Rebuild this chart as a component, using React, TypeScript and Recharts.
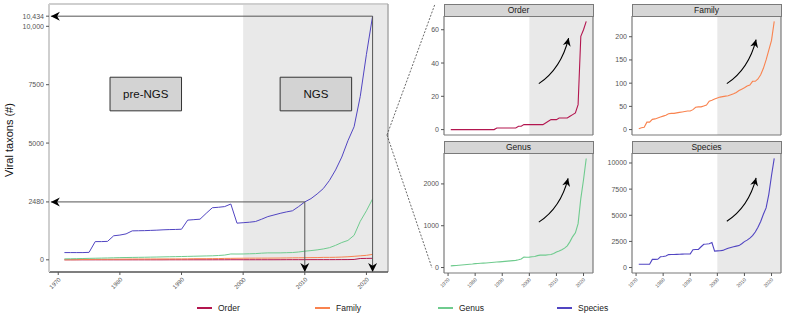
import React from 'react';
import { LineChart, Line, XAxis, YAxis, ReferenceArea, ReferenceLine } from 'recharts';

// year of record and cumulative number of viral taxa per rank
const years = [
  1971, 1972, 1973, 1974, 1975, 1976, 1977, 1978, 1979, 1980,
  1981, 1982, 1983, 1984, 1985, 1986, 1987, 1988, 1989, 1990,
  1991, 1992, 1993, 1994, 1995, 1996, 1997, 1998, 1999, 2000,
  2001, 2002, 2003, 2004, 2005, 2006, 2007, 2008, 2009, 2010,
  2011, 2012, 2013, 2014, 2015, 2016, 2017, 2018, 2019, 2020,
  2021,
];
const orderCount = [
  0, 0, 0, 0, 0, 0, 0, 0, 0, 0,
  0, 0, 0, 0, 0, 0, 0, 1, 1, 1,
  1, 1, 1, 1, 1, 2, 2, 3, 3, 3,
  3, 3, 3, 3, 3, 4, 5, 6, 6, 6,
  7, 7, 7, 7, 8, 9, 10, 15, 56, 60,
  65,
];
const familyCount = [
  2, 4, 5, 16, 16, 22, 23, 25, 27, 29,
  31, 34, 35, 35, 36, 37, 38, 39, 40, 40,
  43, 48, 49, 49, 51, 53, 61, 63, 66, 68,
  70, 71, 72, 73, 75, 77, 80, 84, 87, 90,
  94, 96, 104, 104, 109, 118, 132, 150, 171, 192,
  233,
];
const genusCount = [
  40, 45, 50, 56, 62, 68, 74, 80, 86, 94,
  98, 102, 106, 110, 115, 120, 126, 131, 136, 141,
  147, 153, 160, 166, 172, 185, 203, 250, 248, 250,
  258, 266, 285, 297, 297, 298, 305, 312, 335, 370,
  395, 425, 465, 520, 620, 740, 830, 1050, 1650, 2100,
  2609,
];
const speciesCount = [
  310, 310, 310, 310, 320, 780, 780, 790, 1030, 1060,
  1110, 1240, 1245, 1250, 1260, 1270, 1285, 1295, 1300, 1310,
  1700, 1720, 1740, 1990, 2230, 2250, 2280, 2390, 1570, 1590,
  1610, 1640, 1740, 1850, 1920, 1990, 2050, 2100, 2280, 2480,
  2620, 2820, 3050, 3400, 3850, 4400, 5100, 5700, 7000, 8800,
  10434,
];

const yearTicks = [1970, 1980, 1990, 2000, 2010, 2020];
const mainTicks = [0, 2480, 5000, 7500, 10000, 10434];
const ngsStart = 2000;
const milestoneYear = 2010;
const milestoneValue = 2480;
const lastYear = 2021;
const lastValue = 10434;

const ranks = [
  { key: 'order', name: 'Order', color: '#B3164F', ticks: [0, 20, 40, 60] },
  { key: 'family', name: 'Family', color: '#F9834F', ticks: [0, 50, 100, 150, 200] },
  { key: 'genus', name: 'Genus', color: '#6FCB8E', ticks: [0, 1000, 2000] },
  { key: 'species', name: 'Species', color: '#5145C2', ticks: [0, 2500, 5000, 7500, 10000] },
];
// growth arrows: [startYear, startValue, endYear, endValue]
const growthArrows: Record<string, number[]> = {
  order: [2003.5, 27.6, 2014.5, 55],
  family: [2003.5, 99, 2014.3, 194],
  genus: [2003.5, 1086, 2014.3, 2133],
  species: [2003.5, 4427, 2014.3, 8576],
};

const data = years.map((year, i) => ({
  year,
  order: orderCount[i],
  family: familyCount[i],
  genus: genusCount[i],
  species: speciesCount[i],
}));

const FONT = '"Liberation Sans", Arial, sans-serif';
const xDomain: [number, number] = [years[0] - 2.5, years[years.length - 1] + 2.5];

const padded = (max: number): [number, number] => [-max * 0.05, max * 1.05];

const headPoints = (x: number, y: number, dx: number, dy: number, len: number, half: number) => {
  const l = Math.hypot(dx, dy) || 1;
  const ux = dx / l;
  const uy = dy / l;
  const bx = x - ux * len;
  const by = y - uy * len;
  const nx = x - ux * len * 0.7;
  const ny = y - uy * len * 0.7;
  return `${x},${y} ${bx - uy * half},${by + ux * half} ${nx},${ny} ${bx + uy * half},${by - ux * half}`;
};

const StraightArrow = (props: any) => {
  const { x1, y1, x2, y2 } = props;
  return (
    <g>
      <line x1={x1} y1={y1} x2={x2} y2={y2} stroke="#555" strokeWidth={1} />
      <polygon points={headPoints(x2, y2, x2 - x1, y2 - y1, 9, 4.5)} fill="#000" />
    </g>
  );
};

const CurvedArrow = (props: any) => {
  const { x1, y1, x2, y2 } = props;
  const cx = x1 + (x2 - x1) * 0.75;
  const cy = y1 + (y2 - y1) * 0.33;
  return (
    <g>
      <path d={`M${x1},${y1} Q${cx},${cy} ${x2},${y2}`} fill="none" stroke="#000" strokeWidth={1.1} />
      <polygon points={headPoints(x2, y2, x2 - cx, y2 - cy, 8, 4)} fill="#000" />
    </g>
  );
};

const YearTick = (props: any) => {
  const { x, y, payload, size, shift } = props;
  const tx = x + shift;
  const ty = y + shift;
  return (
    <text
      x={tx}
      y={ty}
      transform={`rotate(-45 ${tx} ${ty})`}
      textAnchor="end"
      fontSize={size}
      fill="#555"
      fontFamily={FONT}
    >
      {payload.value}
    </text>
  );
};

const fmtMain = (v: number) => (v >= 10000 ? v.toLocaleString('en-US') : String(v));

function MainChart() {
  const yDomain = padded(lastValue);
  return (
    <LineChart width={395} height={300} data={data} margin={{ top: 4, right: 7, left: 0, bottom: 0 }}>
      <ReferenceArea x1={ngsStart} x2={xDomain[1]} fill="#e9e9e9" fillOpacity={1} stroke="none" ifOverflow="hidden" />
      <XAxis
        dataKey="year"
        type="number"
        domain={xDomain}
        ticks={yearTicks}
        allowDataOverflow
        height={28}
        tickSize={3}
        axisLine={{ stroke: '#555', strokeWidth: 1.5 }}
        tickLine={{ stroke: '#555' }}
        tick={<YearTick size={6} shift={3} />}
        interval={0}
      />
      <YAxis
        type="number"
        domain={yDomain}
        ticks={mainTicks}
        allowDataOverflow
        width={49}
        tickSize={3}
        axisLine={{ stroke: '#cfcfcf', strokeWidth: 2 }}
        tickLine={{ stroke: '#555' }}
        tick={{ fontSize: 7, fill: '#555555', fontFamily: FONT }}
        tickFormatter={fmtMain}
        interval={0}
      />
      <ReferenceLine y={yDomain[1]} stroke="#cfcfcf" strokeWidth={2} ifOverflow="visible" />
      <ReferenceLine x={xDomain[1]} stroke="#a8a8a8" strokeWidth={1.5} ifOverflow="visible" />
      <ReferenceArea
        x1={1978.4}
        x2={1990}
        y1={6380}
        y2={7820}
        fill="#d3d3d3"
        fillOpacity={1}
        stroke="#333"
        strokeWidth={1}
        label={{ value: 'pre-NGS', fontSize: 11.5, fill: '#111', fontFamily: FONT }}
      />
      <ReferenceArea
        x1={2006}
        x2={2017.6}
        y1={6380}
        y2={7820}
        fill="#d3d3d3"
        fillOpacity={1}
        stroke="#333"
        strokeWidth={1}
        label={{ value: 'NGS', fontSize: 11.5, fill: '#111', fontFamily: FONT }}
      />
      {ranks.map((r) => (
        <Line
          key={r.key}
          dataKey={r.key}
          stroke={r.color}
          strokeWidth={1}
          dot={false}
          isAnimationActive={false}
          type="linear"
        />
      ))}
      <ReferenceLine
        segment={[{ x: lastYear, y: lastValue }, { x: xDomain[0] + 0.3, y: lastValue }]}
        shape={StraightArrow}
        ifOverflow="visible"
      />
      <ReferenceLine
        segment={[{ x: lastYear, y: lastValue }, { x: lastYear, y: yDomain[0] }]}
        shape={StraightArrow}
        ifOverflow="visible"
      />
      <ReferenceLine
        segment={[{ x: milestoneYear, y: milestoneValue }, { x: xDomain[0] + 0.3, y: milestoneValue }]}
        shape={StraightArrow}
        ifOverflow="visible"
      />
      <ReferenceLine
        segment={[{ x: milestoneYear, y: milestoneValue }, { x: milestoneYear, y: yDomain[0] }]}
        shape={StraightArrow}
        ifOverflow="visible"
      />
    </LineChart>
  );
}

function SmallPanel({ rank, bottom }: { rank: (typeof ranks)[number]; bottom: boolean }) {
  const values = data.map((d: any) => d[rank.key] as number);
  const yDomain = padded(Math.max(...values));
  const a = growthArrows[rank.key];
  return (
    <LineChart
      width={200}
      height={bottom ? 160 : 140}
      data={data}
      margin={{ top: bottom ? 13 : 16, right: 7, left: 0, bottom: bottom ? 0 : 5 }}
    >
      <ReferenceArea x1={ngsStart} x2={xDomain[1]} fill="#e9e9e9" fillOpacity={1} stroke="none" ifOverflow="hidden" />
      <XAxis
        dataKey="year"
        type="number"
        domain={xDomain}
        ticks={yearTicks}
        allowDataOverflow
        hide={!bottom}
        height={27}
        tickSize={3}
        axisLine={false}
        tickLine={{ stroke: '#555' }}
        tick={<YearTick size={5} shift={2} />}
        interval={0}
      />
      <YAxis
        type="number"
        domain={yDomain}
        ticks={rank.ticks}
        allowDataOverflow
        width={44}
        tickSize={3}
        axisLine={false}
        tickLine={{ stroke: '#555' }}
        tick={{ fontSize: 7, fill: '#555555', fontFamily: FONT }}
        interval={0}
      />
      <Line
        dataKey={rank.key}
        stroke={rank.color}
        strokeWidth={1.1}
        dot={false}
        isAnimationActive={false}
        type="linear"
      />
      <ReferenceLine
        segment={[{ x: a[0], y: a[1] }, { x: a[2], y: a[3] }]}
        shape={CurvedArrow}
        ifOverflow="visible"
      />
      <ReferenceLine y={yDomain[0]} stroke="#7a7a7a" strokeWidth={1.2} ifOverflow="visible" />
      <ReferenceLine y={yDomain[1]} stroke="#7a7a7a" strokeWidth={1.2} ifOverflow="visible" />
      <ReferenceLine x={xDomain[0]} stroke="#7a7a7a" strokeWidth={1.2} ifOverflow="visible" />
      <ReferenceLine x={xDomain[1]} stroke="#7a7a7a" strokeWidth={1.2} ifOverflow="visible" />
    </LineChart>
  );
}

const panelPos = [
  { left: 400, top: 0 },
  { left: 588, top: 0 },
  { left: 400, top: 140 },
  { left: 588, top: 140 },
];
const legendLeft = [197, 315, 438, 557];

export default function App() {
  return (
    <div
      style={{
        position: 'absolute',
        left: 0,
        top: 0,
        width: 785,
        height: 315,
        background: '#fff',
        fontFamily: FONT,
        overflow: 'hidden',
      }}
    >
      <div style={{ position: 'absolute', left: 0, top: 0 }}>
        <MainChart />
      </div>
      {ranks.map((r, i) => (
        <React.Fragment key={r.key}>
          <div style={{ position: 'absolute', left: panelPos[i].left, top: panelPos[i].top }}>
            <SmallPanel rank={r} bottom={i >= 2} />
          </div>
          <div
            style={{
              position: 'absolute',
              left: panelPos[i].left + 43.5,
              top: panelPos[i].top + (i >= 2 ? 1 : 4),
              width: 150,
              height: 12.5,
              boxSizing: 'border-box',
              background: '#d6d6d6',
              border: '1px solid #7a7a7a',
              fontSize: 8.5,
              fontWeight: 400,
              lineHeight: '11px',
              textAlign: 'center',
              color: '#1a1a1a',
            }}
          >
            {r.name}
          </div>
        </React.Fragment>
      ))}
      <svg
        width={785}
        height={315}
        style={{ position: 'absolute', left: 0, top: 0, pointerEvents: 'none' }}
      >
        <text
          x={9}
          y={140}
          transform="rotate(-90 9 140)"
          textAnchor="middle"
          dominantBaseline="central"
          fontSize={11}
          fill="#111"
          fontFamily={FONT}
        >
          Viral taxons (#)
        </text>
        <line x1={387} y1={135} x2={435} y2={4} stroke="#444" strokeWidth={0.8} strokeDasharray="2 1.5" />
        <line x1={387} y1={135} x2={432} y2={268} stroke="#444" strokeWidth={0.8} strokeDasharray="2 1.5" />
      </svg>
      {ranks.map((r, i) => (
        <div
          key={r.key}
          style={{
            position: 'absolute',
            left: legendLeft[i],
            top: 302,
            height: 12,
            display: 'flex',
            alignItems: 'center',
            fontSize: 8.5,
            color: '#222',
          }}
        >
          <span style={{ display: 'inline-block', width: 15, height: 2, background: r.color, marginRight: 6 }} />
          {r.name}
        </div>
      ))}
    </div>
  );
}
